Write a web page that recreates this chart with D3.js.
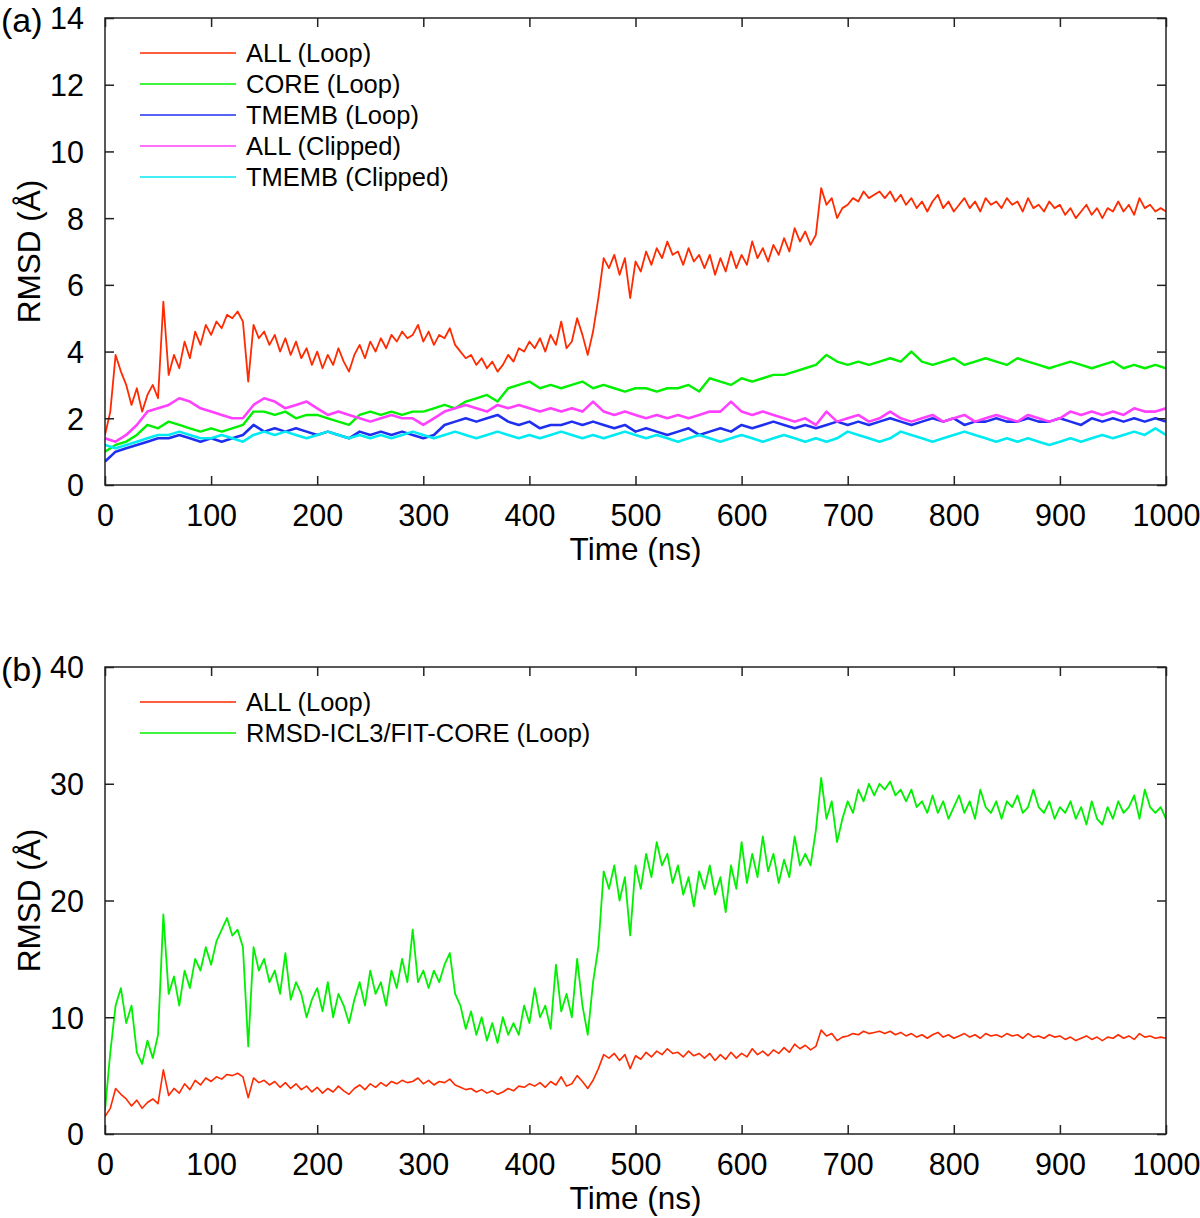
<!DOCTYPE html>
<html>
<head>
<meta charset="utf-8">
<script src="https://cdn.jsdelivr.net/npm/d3@7"></script>
<style>
  html, body { margin: 0; padding: 0; background: #fff; }
  svg { display: block; font-family: "Liberation Sans", Arial, sans-serif; }
</style>
</head>
<body>
<svg id="chart" width="1200" height="1218"></svg>
<script>
// ---------- DATA ----------
const xTicks = [0, 100, 200, 300, 400, 500, 600, 700, 800, 900, 1000];
const yTicksA = [0, 2, 4, 6, 8, 10, 12, 14];
const yTicksB = [0, 10, 20, 30, 40];
const fineStep = 5;    // ns between samples in fine series
const coarseStep = 10; // ns between samples in coarse series

// ALL (Loop), every 5 ns (used in both panels)
const allLoop = [
  1.5,2.2,3.9,3.4,3.0,2.4,2.9,2.2,2.7,3.0,
  2.6,5.5,3.3,3.9,3.5,4.3,3.8,4.6,4.2,4.8,
  4.5,4.9,4.7,5.1,5.0,5.2,4.9,3.1,4.8,4.4,
  4.6,4.2,4.5,4.0,4.4,3.9,4.3,3.8,4.1,3.6,
  4.0,3.5,3.9,3.6,4.1,3.7,3.4,3.9,4.2,3.8,
  4.3,4.0,4.4,4.1,4.5,4.3,4.6,4.4,4.5,4.8,
  4.3,4.6,4.2,4.5,4.4,4.7,4.2,4.0,3.8,3.9,
  3.6,3.8,3.5,3.7,3.4,3.6,3.9,3.7,4.1,4.0,
  4.3,4.1,4.4,4.0,4.5,4.2,4.9,4.1,4.3,5.0,
  4.5,3.9,4.6,5.6,6.8,6.5,6.9,6.3,6.8,5.6,
  6.7,6.4,7.0,6.6,7.1,6.8,7.3,6.9,7.0,6.6,
  7.1,6.7,6.9,6.5,6.9,6.3,6.8,6.4,7.0,6.5,
  6.9,6.6,7.3,6.8,7.1,6.7,7.2,6.9,7.4,7.0,
  7.7,7.3,7.6,7.2,7.5,8.9,8.4,8.6,8.0,8.3,
  8.4,8.6,8.5,8.8,8.6,8.7,8.8,8.6,8.8,8.5,
  8.7,8.4,8.6,8.3,8.5,8.2,8.5,8.7,8.3,8.5,
  8.2,8.4,8.6,8.3,8.5,8.2,8.6,8.4,8.5,8.3,
  8.6,8.4,8.5,8.2,8.6,8.3,8.4,8.2,8.5,8.3,
  8.4,8.1,8.3,8.0,8.2,8.4,8.1,8.3,8.0,8.3,
  8.2,8.5,8.2,8.4,8.1,8.6,8.3,8.4,8.2,8.3,
  8.2
];

// CORE (Loop), every 10 ns
const coreLoop = [
  1.0,1.2,1.3,1.5,1.8,1.7,1.9,1.8,1.7,1.6,
  1.7,1.6,1.7,1.8,2.2,2.2,2.1,2.2,2.0,2.1,
  2.1,2.0,1.9,1.8,2.1,2.2,2.1,2.2,2.1,2.2,
  2.2,2.3,2.4,2.3,2.5,2.6,2.7,2.5,2.9,3.0,
  3.1,2.9,3.0,2.9,3.0,3.1,2.9,3.0,2.9,2.8,
  2.9,2.9,2.8,2.9,2.9,3.0,2.8,3.2,3.1,3.0,
  3.2,3.1,3.2,3.3,3.3,3.4,3.5,3.6,3.9,3.7,
  3.6,3.7,3.6,3.7,3.8,3.7,4.0,3.7,3.6,3.7,
  3.8,3.6,3.7,3.8,3.7,3.6,3.8,3.7,3.6,3.5,
  3.6,3.7,3.6,3.5,3.6,3.7,3.5,3.6,3.5,3.6,
  3.5
];

// TMEMB (Loop), every 10 ns
const tmembLoop = [
  0.7,1.0,1.1,1.2,1.3,1.4,1.4,1.5,1.4,1.3,
  1.4,1.3,1.4,1.5,1.8,1.6,1.7,1.6,1.7,1.6,
  1.5,1.6,1.5,1.4,1.6,1.5,1.6,1.5,1.6,1.5,
  1.4,1.5,1.8,1.9,2.0,1.9,2.0,2.1,1.9,1.8,
  1.9,1.7,1.8,1.8,1.9,1.8,1.9,1.8,1.7,1.8,
  1.6,1.7,1.6,1.5,1.6,1.7,1.5,1.6,1.7,1.6,
  1.8,1.7,1.8,1.9,1.8,1.7,1.8,1.7,1.8,1.9,
  1.8,1.9,1.8,1.9,2.0,1.9,1.8,1.9,2.0,1.9,
  2.0,1.8,1.9,1.9,2.0,1.9,1.9,2.0,1.9,1.9,
  2.0,1.9,1.8,2.0,1.9,2.0,1.9,2.0,1.9,2.0,
  1.9
];

// ALL (Clipped), every 10 ns
const allClipped = [
  1.4,1.3,1.5,1.8,2.2,2.3,2.4,2.6,2.5,2.3,
  2.2,2.1,2.0,2.0,2.4,2.6,2.5,2.3,2.4,2.5,
  2.3,2.1,2.2,2.1,2.0,1.9,2.0,2.1,2.0,2.0,
  1.8,2.0,2.2,2.3,2.4,2.3,2.2,2.4,2.3,2.4,
  2.3,2.2,2.3,2.2,2.3,2.2,2.5,2.2,2.1,2.2,
  2.1,2.0,2.1,2.0,2.1,2.0,2.1,2.2,2.2,2.5,
  2.2,2.1,2.2,2.1,2.0,1.9,2.0,1.8,2.2,1.9,
  2.0,2.1,1.9,2.0,2.2,2.0,1.9,2.0,2.1,1.9,
  2.0,2.1,1.9,2.0,2.1,2.0,1.9,2.1,2.0,1.9,
  2.0,2.2,2.1,2.2,2.1,2.2,2.1,2.3,2.2,2.2,
  2.3
];

// TMEMB (Clipped), every 10 ns
const tmembClipped = [
  1.2,1.1,1.2,1.3,1.4,1.5,1.5,1.6,1.5,1.4,
  1.4,1.5,1.4,1.3,1.5,1.6,1.5,1.6,1.5,1.4,
  1.5,1.6,1.5,1.4,1.5,1.4,1.5,1.4,1.5,1.6,
  1.5,1.4,1.5,1.6,1.5,1.4,1.5,1.6,1.5,1.4,
  1.5,1.4,1.5,1.6,1.5,1.4,1.5,1.4,1.5,1.6,
  1.5,1.4,1.5,1.4,1.3,1.4,1.5,1.4,1.3,1.4,
  1.5,1.4,1.3,1.4,1.5,1.4,1.3,1.4,1.3,1.4,
  1.6,1.5,1.4,1.3,1.4,1.6,1.5,1.4,1.3,1.4,
  1.5,1.6,1.5,1.4,1.3,1.4,1.3,1.4,1.3,1.2,
  1.3,1.4,1.3,1.4,1.5,1.4,1.5,1.6,1.5,1.7,
  1.5
];

// RMSD-ICL3/FIT-CORE (Loop), every 5 ns
const icl3Core = [
  2.0,7.0,11.0,12.5,9.5,11.0,7.0,6.0,8.0,6.5,
  8.5,18.8,12.0,13.5,11.0,14.0,12.5,15.0,14.0,16.0,
  14.5,16.5,17.5,18.5,17.0,17.5,16.0,7.5,16.0,14.0,
  15.0,13.0,14.0,12.0,15.5,11.5,13.0,12.0,10.0,11.5,
  12.5,10.5,13.0,10.0,12.0,11.0,9.5,11.5,13.0,11.0,
  14.0,12.0,13.0,11.0,14.0,12.5,15.0,13.0,17.5,13.0,
  14.0,12.5,14.0,13.0,14.5,15.5,12.0,11.0,9.0,10.5,
  8.5,10.0,8.0,9.5,7.8,10.0,8.5,9.5,8.5,11.0,
  9.5,12.5,10.0,11.0,9.0,14.5,10.5,12.0,10.0,15.0,
  11.0,8.5,13.0,16.0,22.5,21.0,23.0,20.0,22.0,17.0,
  23.0,21.0,24.0,22.0,25.0,23.0,24.0,21.5,23.0,20.5,
  22.0,19.5,22.5,21.0,23.0,20.5,22.0,19.0,23.0,21.0,
  25.0,21.5,24.0,22.0,25.5,22.5,24.0,21.5,23.5,22.0,
  25.5,23.0,24.0,23.0,26.0,30.5,27.0,28.5,25.0,27.0,
  28.5,27.5,29.5,28.5,30.0,29.0,30.0,29.5,30.2,29.0,
  29.5,28.5,29.5,28.0,28.5,27.5,29.0,27.5,28.5,27.0,
  28.0,29.0,27.5,28.5,27.0,29.5,28.0,27.5,28.5,27.0,
  28.5,28.0,29.0,27.5,28.0,29.5,28.0,27.5,28.5,27.0,
  28.0,27.5,28.5,27.0,28.0,26.5,28.5,27.0,26.5,28.0,
  27.0,28.5,27.5,28.0,29.0,27.0,29.5,28.0,27.5,28.0,
  27.0
];

const legendA = ["ALL (Loop)", "CORE (Loop)", "TMEMB (Loop)", "ALL (Clipped)", "TMEMB (Clipped)"];
const legendB = ["ALL (Loop)", "RMSD-ICL3/FIT-CORE (Loop)"];

// ---------- DRAWING ----------
const svg = d3.select("#chart");
const left = 105, right = 1166;
const colors = {red: "#ff2a00", green: "#00f000", blue: "#1f2ff0", magenta: "#ff40ff", cyan: "#00eaf2"};

const x = d3.scaleLinear().domain([0, 1000]).range([left, right]);

function toPoints(arr, step) { return arr.map((v, i) => [i * step, v]); }

function panel(opts) {
  const y = d3.scaleLinear().domain(opts.yDomain).range([opts.bottom, opts.top]);
  const g = svg.append("g");

  const clipId = "clip" + opts.id;
  svg.append("clipPath").attr("id", clipId)
    .append("rect").attr("x", left).attr("y", opts.top)
    .attr("width", right - left).attr("height", opts.bottom - opts.top);

  const line = d3.line().x(d => x(d[0])).y(d => y(d[1]));
  const lines = g.append("g").attr("clip-path", `url(#${clipId})`);
  opts.series.forEach(s => {
    lines.append("path")
      .attr("d", line(toPoints(s.data, s.step)))
      .attr("fill", "none")
      .attr("stroke", s.color)
      .attr("stroke-width", s.width)
      .attr("stroke-linejoin", "round");
  });

  const tickLen = 9;
  const axisColor = "#222";
  const bx = g.append("g").attr("transform", `translate(0,${opts.bottom})`)
    .call(d3.axisBottom(x).tickValues(xTicks).tickSize(-tickLen).tickPadding(19).tickFormat(d3.format("d")));
  const tx = g.append("g").attr("transform", `translate(0,${opts.top})`)
    .call(d3.axisTop(x).tickValues(xTicks).tickSize(-tickLen).tickFormat(""));
  const ly = g.append("g").attr("transform", `translate(${left},0)`)
    .call(d3.axisLeft(y).tickValues(opts.yTicks).tickSize(-tickLen).tickPadding(21).tickFormat(d3.format("d")));
  const ry = g.append("g").attr("transform", `translate(${right},0)`)
    .call(d3.axisRight(y).tickValues(opts.yTicks).tickSize(-tickLen).tickFormat(""));

  [bx, tx, ly, ry].forEach(a => {
    a.select(".domain").remove();
    a.selectAll(".tick line").attr("stroke", axisColor).attr("stroke-width", 1.5);
    a.selectAll("text").attr("fill", "#000").style("font-size", "30.5px")
      .style("font-family", '"Liberation Sans", Arial, sans-serif');
  });
  ly.selectAll("text").attr("dy", "0.36em");

  g.append("rect").attr("x", left).attr("y", opts.top)
    .attr("width", right - left).attr("height", opts.bottom - opts.top)
    .attr("fill", "none").attr("stroke", axisColor).attr("stroke-width", 1.5);

  g.append("text").attr("x", (left + right) / 2).attr("y", opts.bottom + 75)
    .attr("text-anchor", "middle").style("font-size", "31.5px").text("Time (ns)");
  g.append("text")
    .attr("transform", `translate(40,${(opts.top + opts.bottom) / 2}) rotate(-90)`)
    .attr("text-anchor", "middle").style("font-size", "31.5px").text("RMSD (Å)");

  g.append("text").attr("x", 1).attr("y", opts.top + 14)
    .style("font-size", "34px").text(opts.label);

  const lg = g.append("g");
  opts.legend.forEach((name, i) => {
    const ly0 = opts.top + 35 + i * 31;
    lg.append("line").attr("x1", 140).attr("x2", 236).attr("y1", ly0).attr("y2", ly0)
      .attr("stroke", opts.legendColors[i]).attr("stroke-width", 1.6);
    lg.append("text").attr("x", 246).attr("y", ly0).attr("dy", "0.36em")
      .style("font-size", "25.5px").text(name);
  });
}

panel({
  id: "a", top: 18, bottom: 485, yDomain: [0, 14], yTicks: yTicksA, label: "(a)",
  series: [
    {data: allLoop, step: fineStep, color: colors.red, width: 1.8},
    {data: coreLoop, step: coarseStep, color: colors.green, width: 2.4},
    {data: tmembLoop, step: coarseStep, color: colors.blue, width: 2.6},
    {data: allClipped, step: coarseStep, color: colors.magenta, width: 2.6},
    {data: tmembClipped, step: coarseStep, color: colors.cyan, width: 2.6}
  ],
  legend: legendA,
  legendColors: [colors.red, colors.green, colors.blue, colors.magenta, colors.cyan]
});

panel({
  id: "b", top: 667, bottom: 1134, yDomain: [0, 40], yTicks: yTicksB, label: "(b)",
  series: [
    {data: allLoop, step: fineStep, color: colors.red, width: 1.6},
    {data: icl3Core, step: fineStep, color: colors.green, width: 1.8}
  ],
  legend: legendB,
  legendColors: [colors.red, colors.green]
});
</script>
</body>
</html>
